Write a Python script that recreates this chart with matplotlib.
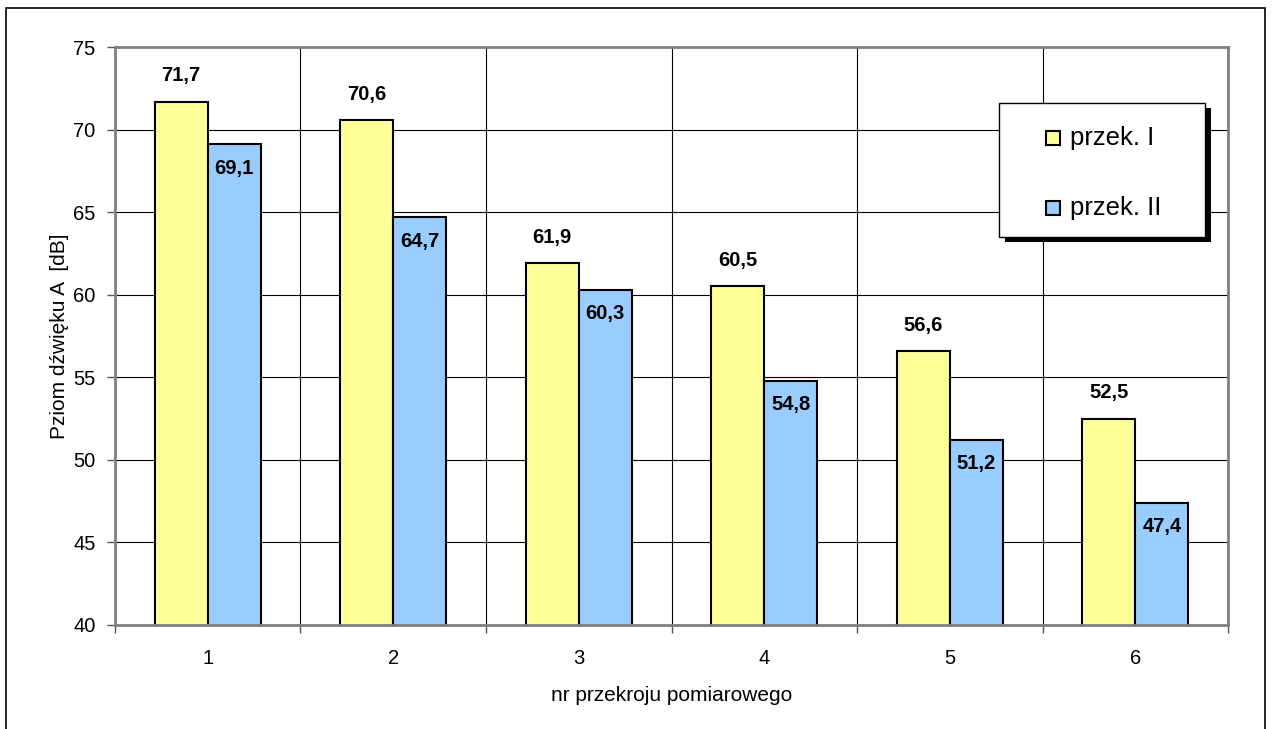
import numpy as np
import matplotlib.pyplot as plt
from matplotlib.patches import Rectangle

plt.rcParams['font.family'] = ['Liberation Sans', 'DejaVu Sans']

# poziom dźwięku A w kolejnych przekrojach
przekroje = ["1", "2", "3", "4", "5", "6"]
przek_1 = [71.7, 70.6, 61.9, 60.5, 56.6, 52.5]
przek_2 = [69.1, 64.7, 60.3, 54.8, 51.2, 47.4]
serie = ["przek. I", "przek. II"]
kolory = ["#ffff99", "#99ccff"]

fig = plt.figure(figsize=(12.73, 7.29), dpi=100)
ax = fig.add_axes([0.0903, 0.1427, 0.8744, 0.7928])

# ramka wokół całego wykresu
fig.patches.append(Rectangle((6 / 1273, -0.02), 1259 / 1273, 1 - 8 / 729 + 0.02,
                             transform=fig.transFigure, fill=False,
                             edgecolor="black", linewidth=1.2))

x = np.arange(len(przekroje))
w = 0.286
ax.bar(x - w / 2, przek_1, w, color=kolory[0], edgecolor="black",
       linewidth=1.5, label=serie[0], zorder=3)
ax.bar(x + w / 2, przek_2, w, color=kolory[1], edgecolor="black",
       linewidth=1.5, label=serie[1], zorder=3)

for xi, v in zip(x - w / 2, przek_1):
    ax.text(xi, v + 1.55, f"{v:.1f}".replace(".", ","), ha="center", va="center",
            fontsize=14.5, fontweight="bold", zorder=4)
for xi, v in zip(x + w / 2, przek_2):
    ax.text(xi, v - 1.45, f"{v:.1f}".replace(".", ","), ha="center", va="center",
            fontsize=14.5, fontweight="bold", zorder=4)

ax.set_xlim(-0.5, len(przekroje) - 0.5)
ax.set_ylim(40, 75)
ax.set_yticks(np.arange(40, 76, 5))
ax.set_xticks(x)
ax.set_xticklabels(przekroje)
ax.set_xticks(np.arange(-0.5, len(przekroje), 1), minor=True)

ax.tick_params(axis="x", which="major", length=0, pad=17, labelsize=14.5)
ax.tick_params(axis="x", which="minor", length=6, width=1, color="#555555")
ax.tick_params(axis="y", length=6, width=1, color="#555555", labelsize=14.5, pad=8)

ax.grid(axis="y", which="major", color="black", linewidth=0.8, zorder=0)
ax.grid(axis="x", which="minor", color="black", linewidth=0.8, zorder=0)
for s in ax.spines.values():
    s.set_color("#808080")
    s.set_linewidth(2)
    s.set_zorder(5)

ax.set_ylabel("Pziom dźwięku A  [dB]", fontsize=15, labelpad=3)
ax.set_xlabel("nr przekroju pomiarowego", fontsize=15, labelpad=13)

# legenda z czarnym cieniem (współrzędne osi)
lx0, ly0, lw, lh = 0.7942, 0.6713, 0.1851, 0.2318
ax.add_patch(Rectangle((lx0 + 0.0055, ly0 - 0.0085), lw, lh, transform=ax.transAxes,
                       facecolor="black", edgecolor="none", zorder=6, clip_on=False))
ax.add_patch(Rectangle((lx0, ly0), lw, lh, transform=ax.transAxes,
                       facecolor="white", edgecolor="black", linewidth=1.0,
                       zorder=7, clip_on=False))
for nazwa, kolor, yc in zip(serie, kolory, [0.8426, 0.7215]):
    ax.add_patch(Rectangle((0.8365, yc - 0.0117), 0.0126, 0.0234, transform=ax.transAxes,
                           facecolor=kolor, edgecolor="black", linewidth=1.5,
                           zorder=8, clip_on=False))
    ax.text(0.8580, yc, nazwa, transform=ax.transAxes, ha="left", va="center",
            fontsize=18.5, zorder=8)

fig.savefig("out.png", dpi=100, facecolor="white")
